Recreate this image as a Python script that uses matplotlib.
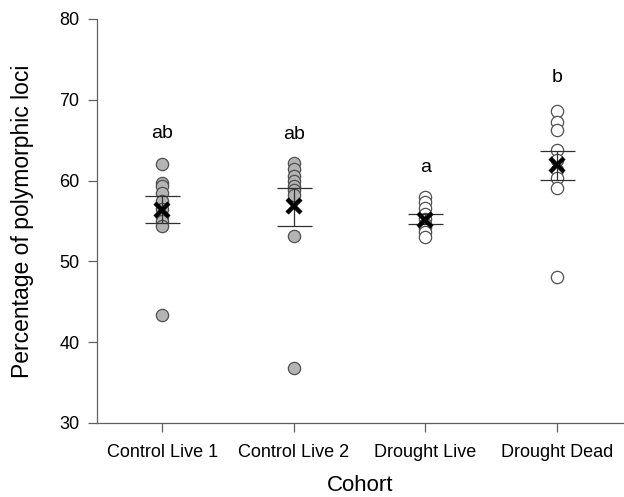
import matplotlib
matplotlib.use('Agg')
import matplotlib.pyplot as plt
import numpy as np

plt.rcParams['font.family'] = ['Liberation Sans', 'DejaVu Sans']

# Данные
cohorts = ['Control Live 1', 'Control Live 2', 'Drought Live', 'Drought Dead']
control_live_1 = [62.1, 59.7, 59.3, 58.5, 57.5, 56.5, 55.5, 55.0, 54.4, 43.4]
control_live_2 = [62.2, 61.4, 60.5, 59.9, 59.3, 58.8, 58.2, 53.1, 36.8]
drought_live = [58.0, 57.3, 56.6, 55.8, 55.2, 54.6, 54.1, 53.6, 53.0]
drought_dead = [68.6, 67.3, 66.2, 63.8, 62.5, 61.3, 60.3, 59.1, 48.1]
group_points = [control_live_1, control_live_2, drought_live, drought_dead]

means = [56.3, 56.8, 55.1, 61.9]
err_low = [54.8, 54.4, 54.6, 60.1]
err_high = [58.1, 59.1, 55.8, 63.7]
letters = ['ab', 'ab', 'a', 'b']
letter_y = [65.8, 65.7, 61.6, 72.8]

face_colors = ['#b4b4b4', '#b4b4b4', 'white', 'white']

fig = plt.figure(figsize=(6.24, 4.97), dpi=100)
ax = fig.add_axes([0.155, 0.149, 0.843, 0.813])

x = np.arange(len(cohorts))
for i, pts in enumerate(group_points):
    ax.scatter(np.full(len(pts), x[i]), pts, s=78, facecolor=face_colors[i],
               edgecolor='#505050', linewidth=0.9, zorder=2)

means = np.array(means)
yerr = np.vstack([means - np.array(err_low), np.array(err_high) - means])
ax.errorbar(x, means, yerr=yerr, fmt='none', ecolor='#303030',
            elinewidth=0.9, capsize=12.6, capthick=0.9, zorder=3)
ax.plot(x, means, ls='none', marker='x', color='black',
        markersize=10, markeredgewidth=3.2, zorder=4)

for i, (lab, ly) in enumerate(zip(letters, letter_y)):
    ax.text(x[i], ly, lab, ha='center', va='center', fontsize=14, color='black')

ax.set_xlim(-0.5, 3.5)
ax.set_ylim(30, 80)
ax.set_yticks([30, 40, 50, 60, 70, 80])
ax.set_xticks(x)
ax.set_xticklabels(cohorts)
ax.tick_params(axis='both', direction='out', length=6.5, width=0.9,
               color='#606060', labelsize=13, pad=6)
ax.tick_params(axis='x', pad=9)

for side in ['top', 'right']:
    ax.spines[side].set_visible(False)
for side in ['left', 'bottom']:
    ax.spines[side].set_color('#606060')
    ax.spines[side].set_linewidth(0.9)

ax.set_xlabel('Cohort', fontsize=16, labelpad=10)
ax.set_ylabel('Percentage of polymorphic loci', fontsize=16.5, labelpad=18)

fig.savefig('out.png', dpi=100, facecolor='white')
